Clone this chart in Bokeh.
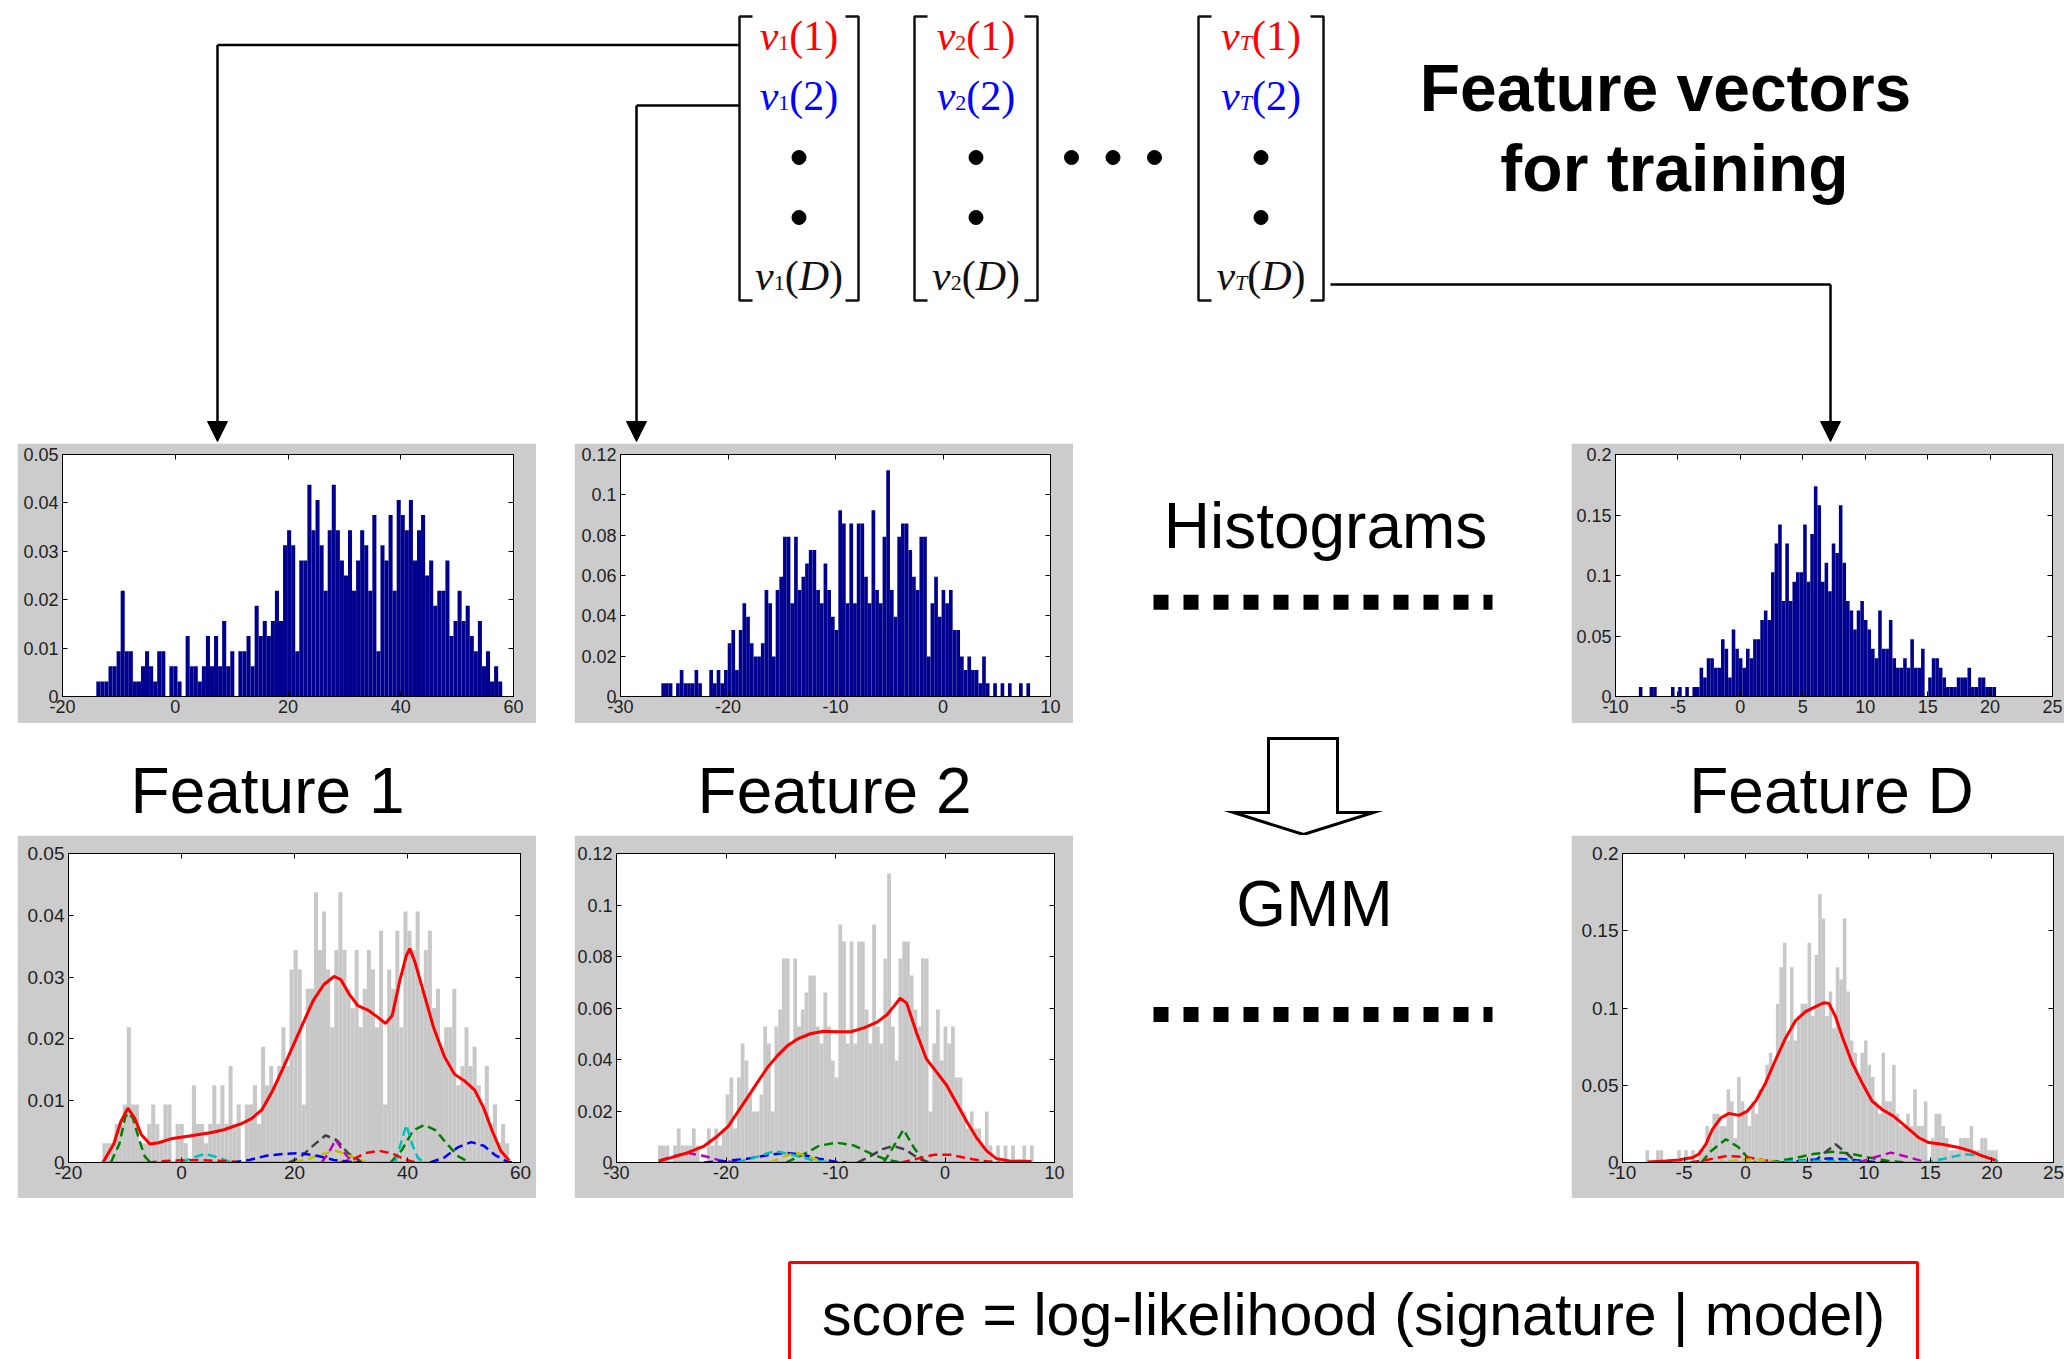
import numpy as np
from bokeh.plotting import figure
from bokeh.models import (Range1d, LinearAxis, FixedTicker, CustomJSTickFormatter,
                          Arrow, NormalHead, Spacer)
from bokeh.layouts import row, column
from bokeh.core.properties import value
from bokeh.embed import file_html
from bokeh.resources import INLINE

# ---------------------------------------------------------------- data
# histogram bar heights, in counts; one count = *_UNIT in density
H1_RANGE = (-14.0, 58.0)
H1_UNIT = 0.003125
H1_COUNTS = [1, 1, 1, 2, 2, 3, 7, 3, 3, 1,
             1, 2, 3, 2, 1, 3, 3, 0, 2, 2,
             1, 0, 4, 2, 2, 1, 2, 4, 2, 4,
             2, 5, 2, 3, 0, 3, 3, 4, 2, 6,
             4, 5, 4, 5, 7, 5, 10, 11, 10, 3,
             9, 9, 14, 11, 13, 10, 7, 11, 14, 11,
             9, 8, 11, 7, 9, 11, 10, 7, 12, 3,
             10, 9, 12, 7, 13, 12, 11, 13, 9, 11,
             12, 8, 9, 6, 7, 7, 9, 4, 5, 7,
             5, 6, 4, 3, 5, 2, 3, 1, 2, 1]

H2_RANGE = (-26.2, 8.1)
H2_UNIT = 0.0066
H2_COUNTS = [1, 1, 1, 0, 1, 2, 1, 1, 1, 2,
             1, 0, 0, 2, 1, 2, 1, 2, 4, 5,
             2, 5, 7, 6, 4, 3, 3, 4, 8, 7,
             3, 8, 9, 12, 12, 7, 12, 8, 9, 10,
             11, 11, 8, 7, 10, 8, 6, 5, 14, 13,
             7, 13, 7, 13, 13, 9, 7, 14, 8, 7,
             12, 17, 8, 6, 12, 13, 13, 11, 9, 8,
             12, 12, 3, 7, 9, 6, 8, 7, 8, 5,
             5, 3, 2, 3, 2, 2, 1, 3, 1, 0,
             1, 0, 1, 0, 1, 0, 0, 1, 0, 1]

HD_RANGE = (-8.13, 20.48)
HD_UNIT = 0.0079
HD_COUNTS = [1, 0, 0, 1, 1, 0, 0, 0, 0, 1,
             0, 1, 0, 1, 0, 1, 1, 3, 2, 4,
             4, 3, 3, 6, 5, 2, 7, 5, 4, 3,
             5, 4, 6, 6, 8, 9, 8, 13, 16, 18,
             10, 16, 10, 12, 13, 13, 18, 12, 17, 22,
             20, 12, 14, 11, 16, 15, 20, 14, 10, 9,
             7, 9, 10, 8, 7, 5, 4, 9, 5, 5,
             8, 4, 3, 3, 4, 3, 6, 3, 3, 5,
             0, 2, 4, 4, 3, 2, 1, 1, 1, 2,
             2, 2, 3, 1, 1, 2, 2, 1, 1, 1]

# axis ticks
F1_XTICKS = [-20, 0, 20, 40, 60]
F1_YTICKS = [0, 0.01, 0.02, 0.03, 0.04, 0.05]
F2_XTICKS = [-30, -20, -10, 0, 10]
F2_YTICKS = [0, 0.02, 0.04, 0.06, 0.08, 0.1, 0.12]
FD_XTICKS = [-10, -5, 0, 5, 10, 15, 20, 25]
FD_YTICKS = [0, 0.05, 0.1, 0.15, 0.2]

# GMM fitted densities (red solid)
G1_FIT_X = [-13.9, -12.0, -10.75, -9.5, -8.3, -7.1, -5.6, -4.05, -1.6, 1.4, 5.1, 7.5, 10.6,
            12.4, 14.2, 16.0, 17.9, 19.7, 21.5, 23.3, 25.2, 27.0, 28.2, 29.7, 31.2, 33.1,
            34.6, 36.1, 37.3, 38.6, 39.8, 40.4, 41.3, 42.8, 44.6, 46.5, 48.3, 50.1, 51.9,
            53.5, 55.0, 56.5, 58.0]
G1_FIT_Y = [0.0, 0.003, 0.0066, 0.0088, 0.0072, 0.0045, 0.003, 0.0032, 0.0039, 0.0043, 0.0048,
            0.0053, 0.0063, 0.0071, 0.0085, 0.0114, 0.0151, 0.0188, 0.0225, 0.0262, 0.0288,
            0.0301, 0.0296, 0.0272, 0.0254, 0.0246, 0.0236, 0.0225, 0.0238, 0.0293, 0.0335,
            0.0346, 0.0325, 0.0277, 0.0219, 0.0172, 0.0143, 0.0132, 0.0117, 0.0088, 0.0051,
            0.0019, 0.0003]
G2_FIT_X = [-26.15, -25, -23.5, -22, -20.8, -19.8, -18.9, -18, -17.1, -16.2, -15.3, -14.4,
            -13.5, -12.3, -11.1, -9.85, -8.6, -7.4, -6.2, -5.3, -4.55, -4.1, -3.5, -2.6, -1.7,
            -0.76, 0.15, 1.06, 1.97, 2.88, 3.8, 4.7, 5.9, 7.9]
G2_FIT_Y = [0.0006, 0.0019, 0.0038, 0.0064, 0.0102, 0.014, 0.0198, 0.0255, 0.0313, 0.037,
            0.0415, 0.0453, 0.0479, 0.05, 0.051, 0.0508, 0.0508, 0.0523, 0.0545, 0.0574,
            0.0613, 0.0638, 0.0619, 0.0504, 0.0402, 0.0351, 0.03, 0.023, 0.016, 0.0096,
            0.0045, 0.0015, 0.0006, 0.0004]
GD_FIT_X = [-7.97, -6.5, -5.4, -4.3, -3.8, -3.24, -2.7, -2.0, -1.35, -0.54, 0.14, 0.81, 1.62,
            2.43, 3.24, 4.05, 4.86, 5.68, 6.35, 6.76, 7.3, 7.84, 8.65, 9.46, 10.27, 11.08,
            12.0, 12.97, 14.05, 14.86, 15.95, 17.3, 18.24, 19.2, 20.27]
GD_FIT_Y = [0.0004, 0.0009, 0.0017, 0.0032, 0.0054, 0.0118, 0.0215, 0.029, 0.0318, 0.0305,
            0.0333, 0.0397, 0.0515, 0.0665, 0.0805, 0.0918, 0.0976, 0.1009, 0.1034, 0.103,
            0.0944, 0.0815, 0.0644, 0.0515, 0.0397, 0.0343, 0.03, 0.0236, 0.0161, 0.0129,
            0.0118, 0.0097, 0.0075, 0.0043, 0.0015]

# mixture components (dashed)
G1_COMP_COLORS = ["green", "green", "cyan", "cyan", "black", "magenta", "yellow",
                  "red", "red", "blue", "blue"]
G1_COMP_X = [[-12.5, -11, -10, -9.5, -8.6, -7.6, -6.5, -5.5],
             [37, 39, 41, 43, 45, 47, 49, 51],
             [37.8, 38.8, 39.8, 40.8, 41.8, 42.8],
             [0, 2, 4.2, 6.5, 9],
             [19, 21, 23, 25.5, 27.5, 29.5, 31.5, 33],
             [24.8, 26, 27.3, 28.6, 30, 31],
             [20, 22.5, 25, 27.3, 29.5, 31.5, 33],
             [28, 30.5, 32.5, 35, 37.5, 39.5, 41.5],
             [-6, -2, 3, 8, 11],
             [9, 12, 15, 18, 21, 24, 27, 30, 32],
             [44, 46.5, 49, 51.3, 53.5, 55.5, 57.5, 58.5]]
G1_COMP_Y = [[0, 0.003, 0.0072, 0.008, 0.0072, 0.004, 0.001, 0],
             [0, 0.002, 0.0052, 0.0061, 0.0052, 0.003, 0.001, 0],
             [0, 0.003, 0.0061, 0.003, 0.0008, 0],
             [0, 0.0008, 0.0014, 0.0008, 0],
             [0, 0.0008, 0.0025, 0.0044, 0.0036, 0.0015, 0.0003, 0],
             [0, 0.0015, 0.0037, 0.0018, 0.0003, 0],
             [0, 0.0006, 0.0014, 0.0019, 0.0012, 0.0004, 0],
             [0, 0.0006, 0.0015, 0.0019, 0.0014, 0.0005, 0],
             [0, 0.0003, 0.0004, 0.0002, 0],
             [0, 0.0004, 0.0011, 0.0014, 0.0015, 0.0011, 0.0004, 0.0001, 0],
             [0, 0.0008, 0.0025, 0.0033, 0.0027, 0.0012, 0.0002, 0]]
G1_BASE_X = [-14.0, 58.5]

G2_COMP_COLORS = ["green", "green", "black", "red", "magenta", "blue", "cyan", "yellow"]
G2_COMP_X = [[-14.5, -13, -11.5, -9.9, -8.3, -6.8, -5.3, -4],
             [-5.6, -4.8, -3.8, -2.8, -2, -1.5],
             [-8, -6.8, -5.7, -4.7, -3.6, -2.5, -1.5],
             [-4, -2.5, -1, 0.5, 2, 3.5, 5],
             [-26, -25, -23.6, -22, -20.5, -19],
             [-22, -20, -18, -16, -14.5, -13, -11.5, -10, -9],
             [-19, -17.5, -15.5, -13.5, -12, -10.5],
             [-16, -14.8, -13.6, -12.4, -11]]
G2_COMP_Y = [[0, 0.003, 0.0065, 0.0077, 0.0066, 0.0035, 0.001, 0],
             [0, 0.0055, 0.0128, 0.0055, 0.0008, 0],
             [0, 0.0025, 0.0052, 0.0064, 0.005, 0.0018, 0],
             [0, 0.0015, 0.003, 0.003, 0.0017, 0.0006, 0],
             [0.0008, 0.0022, 0.0038, 0.0025, 0.0008, 0],
             [0, 0.0006, 0.0015, 0.003, 0.0038, 0.003, 0.0015, 0.0003, 0],
             [0, 0.0018, 0.0045, 0.0025, 0.0008, 0],
             [0, 0.0022, 0.0038, 0.0022, 0]]
G2_BASE_X = [-26.2, 7.0]

GD_COMP_COLORS = ["green", "red", "yellow", "green", "black", "blue", "cyan", "magenta", "cyan"]
GD_COMP_X = [[-3.6, -2.8, -1.6, -0.6, 0.3, 0.8],
             [-4.5, -3, -1.5, 0, 1.5, 3],
             [-2.5, -1, 0.5, 2, 3.5],
             [2, 4, 5.5, 7, 8.5, 10, 11.5, 13],
             [5.5, 6.2, 7.3, 8.2, 9],
             [3, 5, 6.8, 8.5, 10.5, 11.5],
             [2, 5, 8, 10],
             [9.2, 10.3, 11.8, 13.2, 14.5, 15.2],
             [14.5, 16, 17.8, 19.2, 20.5]]
GD_COMP_Y = [[0, 0.0075, 0.015, 0.01, 0.002, 0],
             [0, 0.002, 0.0043, 0.0035, 0.0015, 0],
             [0, 0.0012, 0.0021, 0.0012, 0],
             [0, 0.0028, 0.0055, 0.0069, 0.0058, 0.0032, 0.0012, 0],
             [0, 0.005, 0.0118, 0.006, 0],
             [0, 0.0015, 0.0026, 0.0018, 0.0004, 0],
             [0, 0.0012, 0.001, 0],
             [0, 0.003, 0.0064, 0.0035, 0.0005, 0],
             [0, 0.0022, 0.0054, 0.0045, 0.0008]]
GD_BASE_X = [-8.0, 20.5]

# texts
TITLE_LINES = ["Feature vectors", "for training"]
FEATURE_LABELS = ["Feature 1", "Feature 2", "Feature D"]
HIST_LABEL = "Histograms"
GMM_LABEL = "GMM"
SCORE_TEXT = "score = log-likelihood (signature | model)"
VEC_SUBS = ["1", "2", "T"]

# ---------------------------------------------------------------- style
SANS = "Liberation Sans"
SERIF = "Liberation Serif"
PANEL = "#cccccc"
BAR_BLUE = "#00008f"
BAR_GRAY = "#c8c8c8"
MCOL = {"green": "#008000", "cyan": "#00bfbf", "black": "#404040", "magenta": "#bf00bf",
        "yellow": "#bfbf00", "red": "#ff0000", "blue": "#0000ff"}
W = 2064
H = 1359


def canvas(x0, x1, y0, y1):
    p = figure(width=x1 - x0, height=y1 - y0, x_range=Range1d(x0, x1), y_range=Range1d(y1, y0),
               x_axis_type=None, y_axis_type=None, output_backend="svg", toolbar_location=None,
               min_border=0, outline_line_color=None, background_fill_color="white",
               border_fill_color="white")
    p.grid.visible = False
    return p


def style_axis(ax, ticks, label_px, show, standoff):
    ax.ticker = FixedTicker(ticks=ticks)
    ax.major_tick_in = 5
    ax.major_tick_out = 0
    ax.minor_tick_line_color = None
    ax.axis_line_color = "black"
    ax.major_tick_line_color = "black"
    if show:
        ax.formatter = CustomJSTickFormatter(code="return String(tick);")
        ax.major_label_text_font = SANS
        ax.major_label_text_font_size = f"{label_px}px"
        ax.major_label_text_color = "#222222"
        ax.major_label_standoff = standoff
    else:
        ax.formatter = CustomJSTickFormatter(code="return '';")
        ax.major_label_text_font_size = "0px"
        ax.major_label_standoff = 0


def chart(box, frame, xticks, yticks, label_px):
    x0, x1, y0, y1 = box
    fl, fr, ft, fb = frame
    p = figure(width=x1 - x0, height=y1 - y0,
               x_range=Range1d(xticks[0], xticks[-1]), y_range=Range1d(yticks[0], yticks[-1]),
               output_backend="svg", toolbar_location=None,
               min_border_left=fl - x0, min_border_right=x1 - fr,
               min_border_top=ft - y0, min_border_bottom=y1 - fb,
               border_fill_color=PANEL, background_fill_color="white",
               outline_line_color="black", outline_line_width=1)
    p.grid.visible = False
    style_axis(p.xaxis[0], xticks, label_px, True, 3)
    style_axis(p.yaxis[0], yticks, label_px, True, 4)
    top = LinearAxis()
    style_axis(top, xticks, label_px, False, 0)
    p.add_layout(top, "above")
    right = LinearAxis()
    style_axis(right, yticks, label_px, False, 0)
    p.add_layout(right, "right")
    return p


def bars(p, rng, counts, unit, color):
    edges = np.linspace(rng[0], rng[1], len(counts) + 1)
    heights = np.array(counts, dtype=float) * unit
    p.quad(left=edges[:-1], right=edges[1:], bottom=0, top=heights,
           fill_color=color, line_color=None)


def gmm(p, base_x, comp_x, comp_y, comp_colors, fit_x, fit_y):
    p.line(base_x, [0, 0], line_color=MCOL["cyan"], line_width=2)
    p.multi_line(xs=comp_x, ys=comp_y, line_color=[MCOL[c] for c in comp_colors],
                 line_width=2.5, line_dash="9 5")
    p.line(fit_x, fit_y, line_color="#ff0000", line_width=3)


# ---------------------------------------------------------------- top diagram
top = canvas(0, W, 0, 443)

BR_L = [739, 914, 1198]
BR_R = [858, 1037, 1323]
BR_T, BR_B, SERIF_LEN = 16, 300, 13
bx, by = [], []
for l, r in zip(BR_L, BR_R):
    bx += [[l + SERIF_LEN, l, l, l + SERIF_LEN], [r - SERIF_LEN, r, r, r - SERIF_LEN]]
    by += [[BR_T, BR_T, BR_B, BR_B], [BR_T, BR_T, BR_B, BR_B]]
top.multi_line(xs=bx, ys=by, line_color="#111111", line_width=2.5)

EM = {"v": 0.444, "1": 0.5, "2": 0.5, "T": 0.556, "(": 0.333, ")": 0.333, "D": 0.722}
MAIN_PX, SUB_PX = 42, 22


def rich(p, xc, base, parts, color):
    total = sum(sum(EM[ch] for ch in t) * s for t, _, s, _ in parts)
    x = xc - total / 2
    for t, ital, s, dy in parts:
        p.text(x=[x], y=[base + dy], text=[t], text_font=value(SERIF),
               text_font_style="italic" if ital else "normal", text_font_size=f"{s}px",
               text_color=color, text_align="left", text_baseline="alphabetic")
        x += sum(EM[ch] for ch in t) * s


centers = [(l + r) / 2 for l, r in zip(BR_L, BR_R)]
for xc, sub in zip(centers, VEC_SUBS):
    sub_it = sub == "T"
    head = [("v", True, MAIN_PX, 0), (sub, sub_it, SUB_PX, 7)]
    rich(top, xc, 35, head + [("(1)", False, MAIN_PX, 0)], "#ff0000")
    rich(top, xc, 95, head + [("(2)", False, MAIN_PX, 0)], "#0000ff")
    rich(top, xc, 275, head + [("(", False, MAIN_PX, 0), ("D", True, MAIN_PX, 0),
                               (")", False, MAIN_PX, 0)], "#111111")
top.scatter(x=centers * 2, y=[157] * 3 + [217] * 3, size=14, color="black")
top.scatter(x=[1071, 1112.5, 1154], y=[157] * 3, size=14, color="black")

# leader lines and arrows
top.multi_line(xs=[[217, 739], [636, 739], [1330, 1830]], ys=[[44.5, 44.5], [105, 105], [284, 284]],
               line_color="black", line_width=2.5)
for ax_, ay in ((217, 44.5), (636, 105), (1830, 284)):
    top.add_layout(Arrow(end=NormalHead(size=20, fill_color="black", line_color="black"),
                         x_start=ax_, y_start=ay, x_end=ax_, y_end=441,
                         line_color="black", line_width=2.5))

top.text(x=[1665, 1674], y=[87, 167], text=TITLE_LINES, text_font=value(SANS),
         text_font_style="bold", text_font_size="66px", text_color="black",
         text_align="center", text_baseline="alphabetic")

# ---------------------------------------------------------------- histograms row
h1 = chart((17, 536, 443, 723), (62, 513, 453, 698), F1_XTICKS, F1_YTICKS, 18)
bars(h1, H1_RANGE, H1_COUNTS, H1_UNIT, BAR_BLUE)
h2 = chart((574, 1073, 443, 723), (620, 1050, 454, 698), F2_XTICKS, F2_YTICKS, 18)
bars(h2, H2_RANGE, H2_COUNTS, H2_UNIT, BAR_BLUE)
hd = chart((1571, 2064, 443, 723), (1615, 2052, 453, 696), FD_XTICKS, FD_YTICKS, 18)
bars(hd, HD_RANGE, HD_COUNTS, HD_UNIT, BAR_BLUE)

midB = canvas(1073, 1571, 443, 723)
midB.text(x=[1325], y=[526], text=[HIST_LABEL], text_font=value(SANS), text_font_size="64px",
          text_color="black", text_align="center", text_baseline="alphabetic")
midB.line([1153, 1492], [614, 614], line_color="black", line_width=15, line_dash="15 15",
          line_cap="butt")

rowB = row(Spacer(width=17, height=280), h1, Spacer(width=38, height=280), h2, midB, hd)

# ---------------------------------------------------------------- feature labels row
rowC = canvas(0, W, 723, 835)
rowC.text(x=[267, 834, 1831], y=[790] * 3, text=FEATURE_LABELS, text_font=value(SANS),
          text_font_size="64px", text_color="black", text_align="center",
          text_baseline="alphabetic")
rowC.patch(x=[1268, 1337, 1337, 1373, 1303, 1233, 1268, 1268],
           y=[738, 738, 812, 812, 834, 812, 812, 738],
           fill_color="white", line_color="black", line_width=3, line_join="miter")

# ---------------------------------------------------------------- GMM row
g1 = chart((17, 536, 835, 1198), (68, 520, 846, 1162), F1_XTICKS, F1_YTICKS, 19)
bars(g1, H1_RANGE, H1_COUNTS, H1_UNIT, BAR_GRAY)
gmm(g1, G1_BASE_X, G1_COMP_X, G1_COMP_Y, G1_COMP_COLORS, G1_FIT_X, G1_FIT_Y)
g2 = chart((574, 1073, 835, 1198), (615, 1054, 848, 1162), F2_XTICKS, F2_YTICKS, 18)
bars(g2, H2_RANGE, H2_COUNTS, H2_UNIT, BAR_GRAY)
gmm(g2, G2_BASE_X, G2_COMP_X, G2_COMP_Y, G2_COMP_COLORS, G2_FIT_X, G2_FIT_Y)
gd = chart((1571, 2064, 835, 1198), (1622, 2053, 853, 1163), FD_XTICKS, FD_YTICKS, 19)
bars(gd, HD_RANGE, HD_COUNTS, HD_UNIT, BAR_GRAY)
gmm(gd, GD_BASE_X, GD_COMP_X, GD_COMP_Y, GD_COMP_COLORS, GD_FIT_X, GD_FIT_Y)

midD = canvas(1073, 1571, 835, 1198)
midD.text(x=[1314], y=[894], text=[GMM_LABEL], text_font=value(SANS), text_font_size="64px",
          text_color="black", text_align="center", text_baseline="alphabetic")
midD.line([1153, 1492], [1024, 1024], line_color="black", line_width=15, line_dash="15 15",
          line_cap="butt")

rowD = row(Spacer(width=17, height=363), g1, Spacer(width=38, height=363), g2, midD, gd)

# ---------------------------------------------------------------- score box
rowE = canvas(0, W, 1198, H)
rowE.quad(left=[789], right=[1917], top=[1262], bottom=[1372], fill_color=None,
          line_color="#ff0000", line_width=3)
rowE.text(x=[1353], y=[1314], text=[SCORE_TEXT], text_font=value(SANS), text_font_size="59px",
          text_color="black", text_align="center", text_baseline="alphabetic")

layout = column(top, rowB, rowC, rowD, rowE)
open("out.html", "w").write(file_html(layout, INLINE))
